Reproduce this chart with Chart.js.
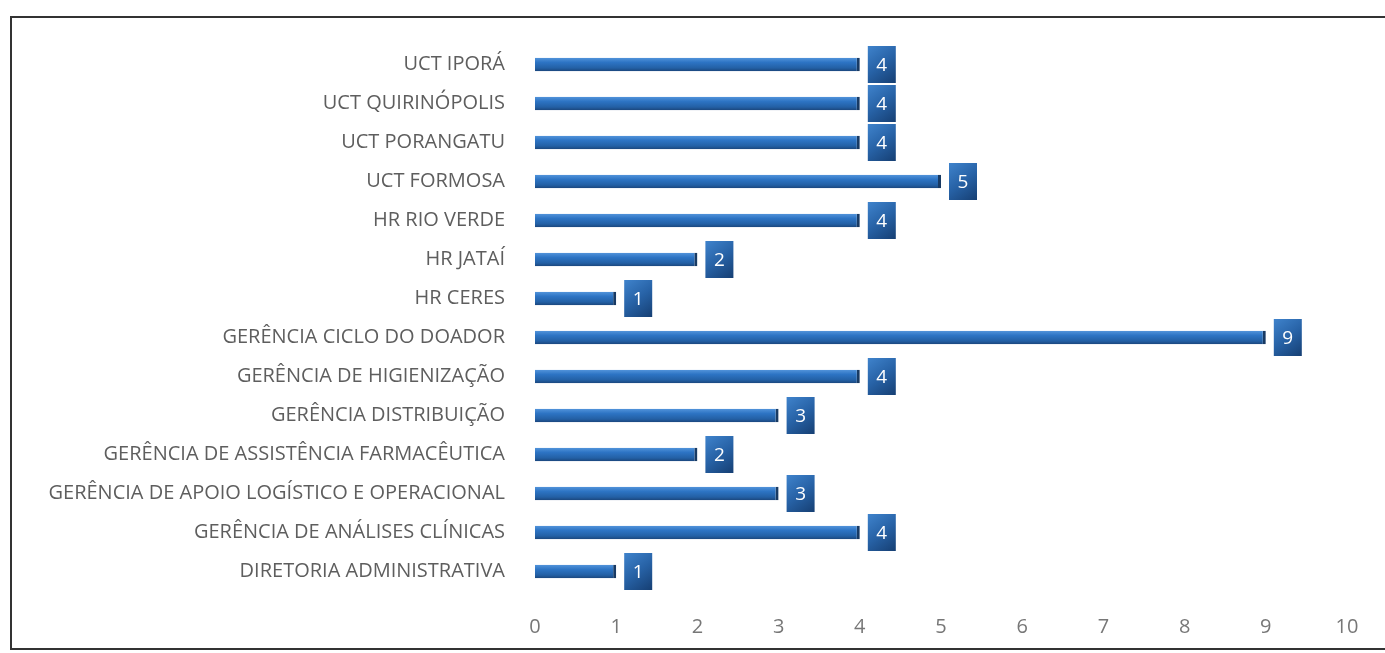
<!DOCTYPE html>
<html lang="pt">
<head>
  <meta charset="UTF-8">
  <title>Servidores por unidade</title>
  <script src="https://cdn.jsdelivr.net/npm/chart.js"></script>
  <style>
    html, body {
      margin: 0;
      padding: 0;
      background: #fff;
    }
    #wrap {
      position: relative;
      width: 1385px;
      height: 653px;
    }
    #frame {
      position: absolute;
      left: 10px;
      top: 16px;
      width: 1400px;
      height: 630px;
      border: 2px solid #333;
      border-right: none;
    }
    canvas {
      position: absolute;
      left: 0;
      top: 0;
    }
  </style>
</head>
<body>
  <div id="wrap">
    <div id="frame"></div>
    <canvas id="unidades" width="1385" height="653"></canvas>
  </div>

  <script>
    const unidades = [
      'UCT IPORÁ',
      'UCT QUIRINÓPOLIS',
      'UCT PORANGATU',
      'UCT FORMOSA',
      'HR RIO VERDE',
      'HR JATAÍ',
      'HR CERES',
      'GERÊNCIA CICLO DO DOADOR',
      'GERÊNCIA DE HIGIENIZAÇÃO',
      'GERÊNCIA DISTRIBUIÇÃO',
      'GERÊNCIA DE ASSISTÊNCIA FARMACÊUTICA',
      'GERÊNCIA DE APOIO LOGÍSTICO E OPERACIONAL',
      'GERÊNCIA DE ANÁLISES CLÍNICAS',
      'DIRETORIA ADMINISTRATIVA'
    ];
    const quantidade = [4, 4, 4, 5, 4, 2, 1, 9, 4, 3, 2, 3, 4, 1];
    const escalaX = [0, 1, 2, 3, 4, 5, 6, 7, 8, 9, 10];

    const fonte = "'Open Sans', Lato, sans-serif";

    // gradiente vertical de cada barra
    function corBarra(context) {
      const chart = context.chart;
      const y = chart.scales.y;
      const cy = y ? y.getPixelForValue(context.dataIndex) : NaN;
      if (!Number.isFinite(cy)) return '#2e74c2';
      const g = chart.ctx.createLinearGradient(0, cy - 7, 0, cy + 7);
      g.addColorStop(0, '#5596dc');
      g.addColorStop(0.35, '#2d74c4');
      g.addColorStop(0.75, '#2360a5');
      g.addColorStop(1, '#1a4479');
      return g;
    }

    // caixinha azul com o valor ao lado da barra
    const rotulos = {
      id: 'rotulos',
      afterDatasetsDraw(chart) {
        const ctx = chart.ctx;
        const meta = chart.getDatasetMeta(0);
        meta.data.forEach((bar, i) => {
          const w = 28, h = 37;
          const x = bar.x + 8;
          const y = bar.y - h / 2;
          const g = ctx.createLinearGradient(x, y, x + w, y + h);
          g.addColorStop(0, '#3f83cc');
          g.addColorStop(0.5, '#2762a6');
          g.addColorStop(1, '#163f73');
          ctx.save();
          ctx.fillStyle = g;
          ctx.fillRect(x, y, w, h);
          ctx.fillStyle = '#fff';
          ctx.font = '19px ' + fonte;
          ctx.textAlign = 'center';
          ctx.textBaseline = 'middle';
          ctx.fillText(String(quantidade[i]), x + w / 2, bar.y + 1);
          ctx.restore();
        });
      }
    };

    new Chart(document.getElementById('unidades'), {
      type: 'bar',
      data: {
        labels: unidades,
        datasets: [{
          data: quantidade,
          backgroundColor: corBarra,
          borderColor: '#183a63',
          borderWidth: { top: 0, bottom: 0, left: 0, right: 3 },
          borderSkipped: false,
          barPercentage: 0.34,
          categoryPercentage: 1
        }]
      },
      options: {
        indexAxis: 'y',
        responsive: false,
        animation: false,
        layout: { padding: { top: 45, right: 38, bottom: 12, left: 0 } },
        plugins: {
          legend: { display: false },
          tooltip: { enabled: false }
        },
        scales: {
          x: {
            min: 0,
            max: 10,
            afterBuildTicks(scale) {
              scale.ticks = escalaX.map(v => ({ value: v }));
            },
            afterFit(scale) { scale.height = 50; },
            grid: { display: false, drawTicks: false },
            border: { display: false },
            ticks: {
              padding: 24,
              color: '#777',
              font: { family: fonte, size: 20 }
            }
          },
          y: {
            afterFit(scale) { scale.width = 535; },
            grid: { display: false, drawTicks: false },
            border: { display: false },
            ticks: {
              padding: 30,
              color: '#5e5e5e',
              font: { family: fonte, size: 20 }
            }
          }
        }
      },
      plugins: [rotulos]
    });
  </script>
</body>
</html>
